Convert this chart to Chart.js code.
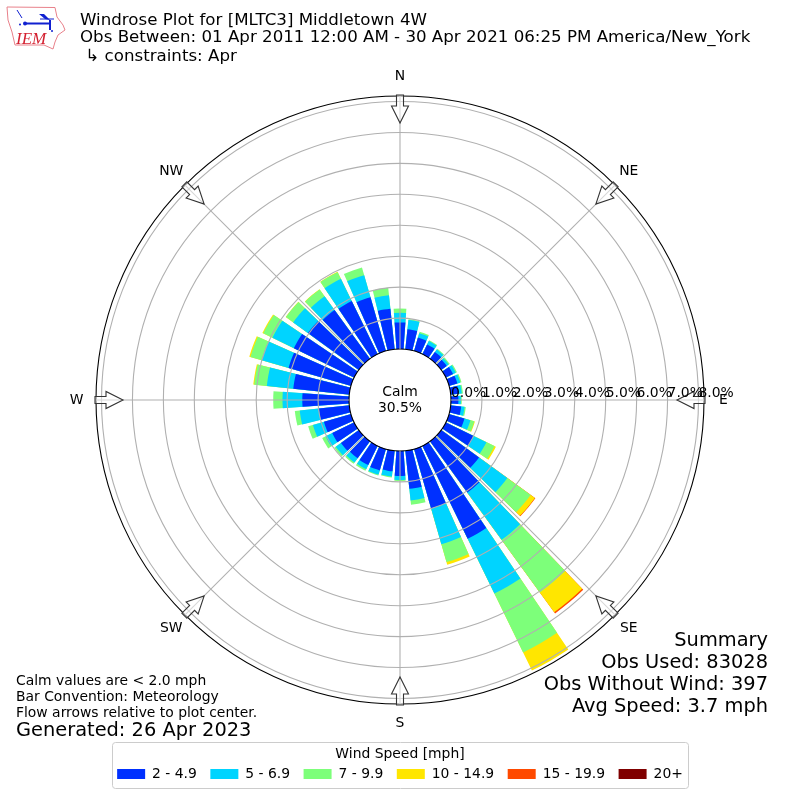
<!DOCTYPE html>
<html lang="en">
<head>
    <meta charset="UTF-8">
    <title>Windrose Plot for [MLTC3] Middletown 4W</title>
    <script src="https://cdn.jsdelivr.net/npm/chart.js"></script>
    <style>
        body { margin: 0; background: #fff; }
        canvas { display: block; }
    </style>
</head>
<body>
    <canvas id="windrose" width="800" height="800"></canvas>

    <script>
        // Direction bins, degrees clockwise from north
        const directions = [0, 10, 20, 30, 40, 50, 60, 70, 80, 90, 100, 110, 120, 130, 140, 150, 160, 170,
            180, 190, 200, 210, 220, 230, 240, 250, 260, 270, 280, 290, 300, 310, 320, 330, 340, 350];

        // Percent of observations per direction, one array per speed class
        const speed2to5 = [.86, .65, .45, .35, .27, .22, .26, .28, .26, .24, .34, .52, 1.00, 1.51, 2.05, 3.34, 2.00, 1.24,
            .81, .67, .72, .69, .68, .71, .79, .91, .99, 1.51, 1.82, 2.10, 2.17, 2.03, 1.95, 1.91, 1.81, 1.32];
        const speed5to7 = [.31, .30, .15, .12, .10, .08, .10, .10, .10, .08, .11, .20, .46, 1.13, 1.89, 1.97, 1.20, .38,
            .13, .17, .14, .15, .17, .21, .24, .37, .62, .64, .86, .90, .77, .59, .55, .80, .74, .44];
        const speed7to10 = [.14, .03, .05, .03, .03, .04, .04, .04, .04, .03, .04, .13, .29, .93, 2.10, 2.12, .60, .14,
            .03, .03, .03, .06, .05, .06, .12, .16, .16, .30, .41, .38, .33, .29, .27, .24, .26, .24];
        const speed10to15 = [0, 0, 0, 0, 0, 0, 0, 0, 0, 0, 0, .02, .05, .17, .79, .65, .09, 0,
            0, 0, 0, 0, 0, 0, 0, 0, 0, 0, .03, .04, .03, .01, .01, .01, 0, 0];
        const speed15to20 = [0, 0, 0, 0, 0, 0, 0, 0, 0, 0, 0, 0, 0, .02, .05, 0, 0, 0,
            0, 0, 0, 0, 0, 0, 0, 0, 0, 0, 0, 0, 0, 0, 0, 0, 0, 0];
        const speed20up = [0, 0, 0, 0, 0, 0, 0, 0, 0, 0, 0, 0, 0, 0, 0, 0, 0, 0,
            0, 0, 0, 0, 0, 0, 0, 0, 0, 0, 0, 0, 0, 0, 0, 0, 0, 0];

        const speedSeries = [speed2to5, speed5to7, speed7to10, speed10to15, speed15to20, speed20up];
        const speedLabels = ['2 - 4.9', '5 - 6.9', '7 - 9.9', '10 - 14.9', '15 - 19.9', '20+'];
        const speedColors = ['#0030ff', '#00d4ff', '#7dff7a', '#ffe600', '#ff4a00', '#800000'];

        const percentTicks = [0, 1, 2, 3, 4, 5, 6, 7, 8];
        const compassNames = ['N', 'NE', 'E', 'SE', 'S', 'SW', 'W', 'NW'];

        const titleLines = ['Windrose Plot for [MLTC3] Middletown 4W',
            'Obs Between: 01 Apr 2011 12:00 AM - 30 Apr 2021 06:25 PM America/New_York',
            ' \u21b3 constraints: Apr'];
        const noteLines = ['Calm values are < 2.0 mph', 'Bar Convention: Meteorology', 'Flow arrows relative to plot center.'];
        const generatedText = 'Generated: 26 Apr 2023';
        const summaryLines = ['Summary', 'Obs Used: 83028', 'Obs Without Wind: 397', 'Avg Speed: 3.7 mph'];
        const calmLines = ['Calm', '30.5%'];

        // the scale goes below zero so the 0% ring sits around the calm circle
        const rMin = -1.648;
        const rMax = 8.178;
        const barAngle = 8;
        const gapAngle = 2;
        const font = 'DejaVu Sans';

        // every bar slot is followed by an empty gap slot
        const slotLabels = [];
        directions.forEach(d => slotLabels.push(d + '\u00b0', ''));
        const slotAngles = slotLabels.map((l, i) => i % 2 ? gapAngle : barAngle);

        // stacked bars: each dataset reaches the running total, the first one is painted last
        const running = directions.map(() => 0);
        const datasets = speedSeries.map((series, s) => {
            const data = [];
            series.forEach((v, i) => {
                running[i] += v;
                data.push(v > 0 ? +running[i].toFixed(2) : rMin, rMin);
            });
            return {
                label: speedLabels[s],
                data: data,
                backgroundColor: speedColors[s],
                borderWidth: 0,
                angle: slotAngles
            };
        });

        function text(ctx, str, x, y, size, align) {
            ctx.font = size + 'px "' + font + '"';
            ctx.textAlign = align || 'left';
            ctx.textBaseline = 'alphabetic';
            ctx.fillStyle = '#000';
            ctx.fillText(str, x, y);
        }

        function drawLogo(ctx) {
            ctx.save();
            ctx.strokeStyle = '#e8808a';
            ctx.lineWidth = 1;
            ctx.beginPath();
            ctx.moveTo(7, 7); ctx.lineTo(55, 7.5); ctx.lineTo(57, 17); ctx.lineTo(63, 25); ctx.lineTo(65, 30);
            ctx.lineTo(58, 35); ctx.lineTo(55, 42); ctx.lineTo(53, 49); ctx.lineTo(44, 45); ctx.lineTo(15, 45);
            ctx.lineTo(12, 32); ctx.lineTo(8, 20);
            ctx.closePath();
            ctx.stroke();
            ctx.strokeStyle = '#1020d0';
            ctx.fillStyle = '#1020d0';
            ctx.lineWidth = 2;
            ctx.beginPath();
            ctx.moveTo(25, 23.5); ctx.lineTo(50, 23.5); ctx.moveTo(50, 20); ctx.lineTo(50, 30);
            ctx.stroke();
            ctx.lineWidth = 1;
            ctx.beginPath();
            ctx.moveTo(17, 10); ctx.lineTo(22, 18); ctx.moveTo(40, 19); ctx.lineTo(54, 19);
            ctx.stroke();
            ctx.beginPath();
            ctx.moveTo(39, 14); ctx.lineTo(44, 14); ctx.lineTo(50, 20); ctx.lineTo(45, 19);
            ctx.closePath();
            ctx.fill();
            [[25, 23.5, 2], [20, 24.5, 1], [52, 31, 1]].forEach(d => {
                ctx.beginPath();
                ctx.arc(d[0], d[1], d[2], 0, Math.PI * 2);
                ctx.fill();
            });
            ctx.font = 'italic 17px "Liberation Serif"';
            ctx.textAlign = 'left';
            ctx.fillStyle = '#d42030';
            ctx.fillText('IEM', 16, 44);
            ctx.restore();
        }

        function drawArrow(ctx, cx, cy, bearing) {
            ctx.save();
            ctx.translate(cx, cy);
            ctx.rotate(bearing * Math.PI / 180);
            // pointing at the centre, tail on the outer ring
            ctx.beginPath();
            ctx.moveTo(-3.5, -305); ctx.lineTo(3.5, -305); ctx.lineTo(3.5, -294);
            ctx.lineTo(8.5, -294); ctx.lineTo(0, -277); ctx.lineTo(-8.5, -294); ctx.lineTo(-3.5, -294);
            ctx.closePath();
            ctx.fillStyle = 'rgba(255,255,255,0.5)';
            ctx.fill();
            ctx.strokeStyle = '#333';
            ctx.lineWidth = 1.1;
            ctx.stroke();
            ctx.restore();
        }

        const roseDecor = {
            id: 'roseDecor',
            afterDatasetsDraw(chart) {
                const ctx = chart.ctx, r = chart.scales.r;
                ctx.save();
                ctx.fillStyle = '#fff';
                ctx.beginPath();
                ctx.arc(r.xCenter, r.yCenter, r.getDistanceFromCenterForValue(0), 0, Math.PI * 2);
                ctx.fill();
                ctx.restore();
            },
            afterDraw(chart) {
                const ctx = chart.ctx, r = chart.scales.r;
                const cx = r.xCenter, cy = r.yCenter;
                const inner = r.getDistanceFromCenterForValue(0);
                const outer = r.getDistanceFromCenterForValue(rMax);
                ctx.save();

                // spokes
                ctx.strokeStyle = '#b0b0b0';
                ctx.lineWidth = 1.1;
                compassNames.forEach((name, i) => {
                    const a = i * Math.PI / 4;
                    ctx.beginPath();
                    ctx.moveTo(cx + inner * Math.sin(a), cy - inner * Math.cos(a));
                    ctx.lineTo(cx + outer * Math.sin(a), cy - outer * Math.cos(a));
                    ctx.stroke();
                });

                // compass arrows and names
                compassNames.forEach((name, i) => {
                    const a = i * Math.PI / 4;
                    drawArrow(ctx, cx, cy, i * 45);
                    ctx.textBaseline = 'middle';
                    ctx.textAlign = 'center';
                    ctx.font = '13.9px "' + font + '"';
                    ctx.fillStyle = '#000';
                    ctx.fillText(name, cx + 323.5 * Math.sin(a), cy - 323.5 * Math.cos(a));
                });

                // percent labels run along the east spoke
                percentTicks.forEach(v => {
                    text(ctx, v.toFixed(1) + '%', cx + r.getDistanceFromCenterForValue(v), cy - 3.5, 13.9);
                });

                // calm value in the middle
                text(ctx, calmLines[0], cx, cy - 4, 13.9, 'center');
                text(ctx, calmLines[1], cx, cy + 12, 13.9, 'center');

                // header
                drawLogo(ctx);
                text(ctx, titleLines[0], 80, 25, 16.67);
                text(ctx, titleLines[1], 80, 42, 16.67);
                text(ctx, titleLines[2], 80, 61, 16.67);

                // notes bottom left
                text(ctx, noteLines[0], 16, 685, 13.9);
                text(ctx, noteLines[1], 16, 701, 13.9);
                text(ctx, noteLines[2], 16, 717, 13.9);
                text(ctx, generatedText, 16, 736, 19.4);

                // summary bottom right
                text(ctx, summaryLines[0], 768, 646, 19.4, 'right');
                text(ctx, summaryLines[1], 768, 668, 19.4, 'right');
                text(ctx, summaryLines[2], 768, 690, 19.4, 'right');
                text(ctx, summaryLines[3], 768, 712, 19.4, 'right');

                // legend frame
                ctx.strokeStyle = '#cccccc';
                ctx.lineWidth = 1;
                ctx.beginPath();
                ctx.roundRect(112.5, 742.5, 576, 46, 3);
                ctx.stroke();
                ctx.restore();
            }
        };

        Chart.defaults.font.family = font;
        Chart.defaults.color = '#000';

        new Chart(document.getElementById('windrose').getContext('2d'), {
            type: 'polarArea',
            data: { labels: slotLabels, datasets: datasets },
            plugins: [roseDecor],
            options: {
                responsive: false,
                animation: false,
                layout: { padding: { left: 96, right: 96, top: 96, bottom: 9.1 } },
                scales: {
                    r: {
                        min: rMin,
                        max: rMax,
                        startAngle: -barAngle / 2,
                        angleLines: { display: false },
                        pointLabels: { display: false },
                        ticks: { display: false },
                        afterBuildTicks: scale => {
                            scale.ticks = [rMin, ...percentTicks, rMax].map(v => ({ value: v }));
                        },
                        grid: {
                            z: 1,
                            circular: true,
                            color: c => (c.tick.value === 0 || c.tick.value === rMax) ? '#000' : '#b0b0b0',
                            lineWidth: c => c.tick.value === rMin ? 0 : 1.1
                        }
                    }
                },
                plugins: {
                    tooltip: { enabled: false },
                    legend: {
                        position: 'bottom',
                        title: {
                            display: true,
                            text: 'Wind Speed [mph]',
                            font: { size: 13.9 },
                            padding: { top: 43.2, bottom: -10.6 }
                        },
                        labels: {
                            boxWidth: 28,
                            boxHeight: 10,
                            padding: 13.5,
                            font: { size: 13.9 },
                            generateLabels: () => speedLabels.map((label, i) => ({
                                text: label,
                                fillStyle: speedColors[i],
                                strokeStyle: speedColors[i],
                                lineWidth: 0,
                                hidden: false,
                                datasetIndex: i
                            }))
                        }
                    }
                }
            }
        });
    </script>
</body>
</html>
